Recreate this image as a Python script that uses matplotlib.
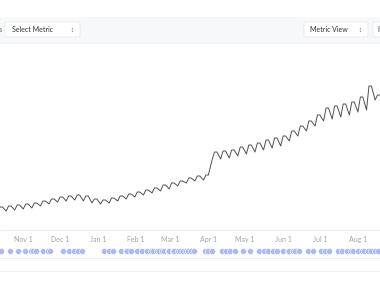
import matplotlib
matplotlib.use("Agg")
import matplotlib.pyplot as plt
from matplotlib.patches import Rectangle, FancyBboxPatch
import datetime as dt

plt.rcParams['font.family'] = ['Lato', 'DejaVu Sans']

# ---- data ----
week_start = "2022-10-11"   # first weekly trough (Tuesday)
weekly_lows = [18, 19, 20, 21, 22, 24, 26, 28, 29, 30, 29, 27, 26, 27, 29, 31, 33, 35, 37,
               39, 41, 44, 47, 49, 50, 70, 71, 72, 74, 76, 78, 80, 82, 84, 89, 94, 99, 104,
               109, 111, 113, 115, 118, 120, 130]
weekly_highs = [23, 24, 25, 26, 27, 29, 31, 33, 34, 35, 34, 31, 30, 32, 34, 36, 38, 40, 42,
                45, 47, 49, 52, 54, 55, 78, 79, 80, 83, 85, 87, 90, 92, 94, 99, 104, 109, 115,
                122, 124, 126, 128, 133, 144, 135]
month_ticks = ["2022-11-01", "2022-12-01", "2023-01-01", "2023-02-01", "2023-03-01",
               "2023-04-01", "2023-05-01", "2023-06-01", "2023-07-01", "2023-08-01"]
event_dates = ["2022-10-14", "2022-10-21", "2022-10-28", "2022-11-02", "2022-11-07", "2022-11-09",
               "2022-11-11", "2022-11-17", "2022-11-21", "2022-11-23", "2022-12-03", "2022-12-08",
               "2022-12-12", "2022-12-16", "2022-12-19", "2023-01-06", "2023-01-10", "2023-01-13",
               "2023-01-20", "2023-01-24", "2023-01-25", "2023-01-28", "2023-02-02", "2023-02-06",
               "2023-02-10", "2023-02-13", "2023-02-15", "2023-02-18", "2023-02-20", "2023-02-22",
               "2023-02-24", "2023-02-27", "2023-02-28", "2023-03-03", "2023-03-04", "2023-03-07",
               "2023-03-09", "2023-03-11", "2023-03-14", "2023-03-15", "2023-03-18", "2023-03-20",
               "2023-03-29", "2023-04-01", "2023-04-04", "2023-04-12", "2023-04-15", "2023-04-19",
               "2023-04-23", "2023-04-29", "2023-05-05", "2023-05-12", "2023-05-16", "2023-05-20",
               "2023-05-24", "2023-05-27", "2023-06-01", "2023-06-05", "2023-06-06", "2023-06-09",
               "2023-06-11", "2023-06-14", "2023-06-21", "2023-06-25", "2023-07-02", "2023-07-05",
               "2023-07-08", "2023-07-16", "2023-07-19", "2023-07-23", "2023-07-26", "2023-07-28",
               "2023-08-01", "2023-08-04", "2023-08-06", "2023-08-09", "2023-08-12", "2023-08-15",
               "2023-08-17"]
x_start, x_end = "2022-10-13", "2023-08-19"

# ---- build line points: trough on week start, highs two and four days later ----
d0 = dt.date.fromisoformat(week_start)
xs, ys = [], []
for i, (lo, hi) in enumerate(zip(weekly_lows, weekly_highs)):
    base = d0 + dt.timedelta(days=7 * i)
    xs += [base, base + dt.timedelta(days=2), base + dt.timedelta(days=4)]
    ys += [lo, hi, hi]

W, H = 380, 282
fig = plt.figure(figsize=(W / 100, H / 100), dpi=100)
fig.patch.set_facecolor('white')

# background / UI layer in pixel coordinates
bg = fig.add_axes([0, 0, 1, 1])
bg.set_xlim(0, W)
bg.set_ylim(H, 0)
bg.axis('off')
bg.add_patch(Rectangle((0, 17), W, 26, facecolor='#f7f8fa', edgecolor='none'))
bg.plot([0, W], [43, 43], color='#eceef1', lw=0.6)
for (x0, x1) in [(5, 80), (304, 368), (373, 390)]:
    bg.add_patch(FancyBboxPatch((x0, 22), x1 - x0, 15, boxstyle="round,pad=0,rounding_size=1.5",
                                facecolor='white', edgecolor='#e6e8ec', lw=0.5))
bg.text(12, 29.5, "Select Metric", fontsize=5, color='#333333', va='center', ha='left')
bg.text(310.5, 29.5, "Metric View", fontsize=5, color='#333333', va='center', ha='left')
bg.text(377.5, 29.5, "I", fontsize=5, color='#333333', va='center', ha='left')
bg.text(-1.5, 29.5, "s", fontsize=5, color='#555555', va='center', ha='left')
for cx in (71.5, 359.5):
    bg.plot([cx], [28.3], marker='^', ms=1.3, color='#888888', mec='none')
    bg.plot([cx], [30.7], marker='v', ms=1.3, color='#888888', mec='none')
bg.plot([0, W], [257.5, 257.5], color='#eceef1', lw=0.6)
bg.plot([0, W], [271, 271], color='#eceef1', lw=0.6)

# main chart
top_px, bot_px = 45, 230
ax = fig.add_axes([0, (H - bot_px) / H, 1, (bot_px - top_px) / H])
ax.patch.set_alpha(0)
ax.plot(xs, ys, color='#505050', lw=0.7, solid_joinstyle='round')
ax.set_xlim(dt.date.fromisoformat(x_start), dt.date.fromisoformat(x_end))
ax.set_ylim(0, 185)
for s in ('top', 'left', 'right'):
    ax.spines[s].set_visible(False)
ax.spines['bottom'].set_color('#e6e8ec')
ax.spines['bottom'].set_linewidth(0.6)
ax.set_yticks([])
ticks = [dt.date.fromisoformat(t) for t in month_ticks]
ax.set_xticks(ticks)
ax.set_xticklabels([t.strftime('%b ') + str(t.day) for t in ticks])
ax.tick_params(axis='x', length=0, pad=4.5, labelsize=5, labelcolor='#a0a5ad')

# events row
ev = fig.add_axes([0, (H - 257) / H, 1, 12 / H], sharex=ax)
ev.patch.set_alpha(0)
ev.axis('off')
ev.set_ylim(0, 1)
edates = [dt.date.fromisoformat(d) for d in event_dates]
ev.scatter(edates, [0.5] * len(edates), s=19, color='#abbaf0', edgecolors='white', linewidths=0.4, zorder=3)
ax.set_xlim(dt.date.fromisoformat(x_start), dt.date.fromisoformat(x_end))

fig.savefig('out.png', dpi=100)
